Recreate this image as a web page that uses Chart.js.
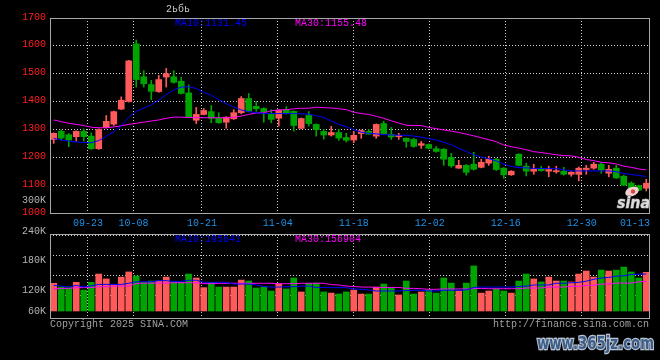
<!DOCTYPE html>
<html><head><meta charset="utf-8">
<script src="https://cdn.jsdelivr.net/npm/chart.js@4.4.1/dist/chart.umd.min.js"></script>
<style>
html,body{margin:0;padding:0;background:#000;width:660px;height:360px;overflow:hidden}
canvas{position:absolute;left:0}
#pc{top:0}
#vc{top:226px}
</style></head><body>
<canvas id="pc" width="660" height="232"></canvas>
<canvas id="vc" width="660" height="134"></canvas>
<script>
// ---------- data ----------
const dates = ['09-12','09-13','09-18','09-19','09-20','09-23','09-24','09-25','09-26','09-27','09-30',
 '10-08','10-09','10-10','10-11','10-14','10-15','10-16','10-17','10-18','10-21','10-22','10-23','10-24','10-25','10-28','10-29','10-30','10-31',
 '11-01','11-04','11-05','11-06','11-07','11-08','11-11','11-12','11-13','11-14','11-15','11-18','11-19','11-20','11-21','11-22','11-25','11-26','11-27','11-28','11-29',
 '12-02','12-03','12-04','12-05','12-06','12-09','12-10','12-11','12-12','12-13','12-16','12-17','12-18','12-19','12-20','12-23','12-24','12-25','12-26','12-27','12-30','12-31',
 '01-02','01-03','01-06','01-07','01-08','01-09','01-10','01-13'];

const openP = [1264,1293,1281,1274,1293,1276,1231,1307,1319,1373,
 1400,1607,1489,1461,1436,1488,1489,1473,1431,1333,
 1354,1364,1340,1326,1338,1360,1411,1383,1375,1354,
 1340,1371,1365,1304,1350,1318,1293,1280,1289,1271,
 1262,1285,1293,1276,1321,1282,1274,1268,1264,1243,
 1246,1231,1229,1200,1161,1171,1175,1164,1179,1193,
 1161,1137,1211,1168,1150,1159,1150,1148,1150,1139,
 1139,1156,1161,1175,1143,1161,1132,1107,1098,1089];
const highP = [1288,1298,1285,1295,1302,1288,1302,1350,1366,1417,
 1548,1621,1511,1476,1494,1519,1511,1487,1460,1379,
 1375,1386,1360,1346,1371,1418,1429,1400,1378,1371,
 1371,1382,1367,1341,1364,1320,1300,1311,1300,1286,
 1293,1298,1300,1320,1329,1307,1286,1270,1268,1257,
 1248,1239,1231,1214,1189,1174,1218,1193,1204,1196,
 1163,1152,1213,1179,1175,1168,1168,1168,1164,1150,
 1165,1171,1182,1181,1171,1171,1136,1112,1100,1121];
const lowP = [1250,1262,1238,1258,1258,1228,1228,1305,1314,1371,
 1398,1452,1452,1407,1433,1452,1466,1427,1342,1321,
 1352,1324,1322,1304,1336,1356,1363,1365,1326,1324,
 1312,1355,1294,1302,1312,1276,1265,1276,1261,1255,
 1252,1268,1282,1268,1283,1264,1264,1236,1236,1232,
 1230,1218,1171,1164,1160,1136,1154,1162,1171,1152,
 1124,1135,1169,1133,1139,1150,1130,1143,1136,1132,
 1115,1139,1157,1143,1130,1124,1098,1084,1080,1079];
const closeP = [1286,1269,1262,1293,1274,1231,1300,1329,1364,1405,
 1546,1479,1464,1437,1479,1500,1469,1429,1344,1354,
 1368,1340,1324,1344,1360,1411,1365,1374,1363,1336,
 1369,1357,1314,1339,1321,1299,1280,1289,1269,1261,
 1279,1296,1283,1318,1285,1273,1279,1257,1239,1249,
 1232,1221,1193,1169,1171,1146,1157,1182,1193,1156,
 1137,1150,1171,1150,1157,1152,1156,1152,1139,1146,
 1161,1161,1175,1154,1157,1126,1100,1086,1082,1107];
const priceMA10 = [1268,1262,1258,1255,1253,1252,1260,1275,1292,1313,
 1343,1365,1377,1388,1405,1425,1442,1452,1453,1447,
 1433,1423,1407,1393,1380,1370,1364,1360,1358,1357,
 1357,1357,1357,1356,1355,1349,1343,1330,1318,1310,
 1299,1290,1286,1284,1281,1280,1279,1279,1276,1272,
 1267,1262,1254,1245,1232,1221,1209,1201,1195,1187,
 1175,1167,1163,1162,1160,1160,1160,1160,1155,1151,
 1151,1151,1151,1151,1151,1148,1142,1138,1135,1131];
const priceMA30 = [1334,1328,1322,1318,1314,1308,1306,1306,1309,1313,
 1318,1322,1326,1330,1334,1340,1344,1344,1343,1342,
 1342,1342,1342,1342,1343,1348,1354,1359,1360,1367,
 1370,1371,1374,1376,1376,1380,1378,1377,1374,1371,
 1362,1357,1354,1347,1340,1331,1323,1315,1314,1314,
 1307,1303,1298,1294,1289,1283,1277,1270,1263,1256,
 1244,1238,1233,1227,1220,1217,1213,1209,1206,1205,
 1200,1192,1188,1182,1180,1176,1168,1164,1158,1155];
// volume in thousands
const volumeK = [147,127,124,152,111,152,196,170,141,180,
 207,186,152,159,159,180,154,152,196,175,
 124,152,127,127,127,164,159,122,127,106,
 143,117,175,101,147,148,101,95,90,101,
 111,90,90,127,143,122,85,159,90,101,
 111,95,175,148,106,148,239,95,106,117,
 106,95,159,196,170,154,180,159,159,154,
 196,212,180,217,212,217,233,207,175,205];
const volMA10K = [136,132,127,136,127,134,141,141,141,141,
 147,155,155,155,161,161,157,157,163,163,
 152,152,152,152,143,143,143,138,130,127,
 127,129,129,132,132,125,125,124,124,124,
 117,115,112,106,106,106,106,108,110,110,
 106,106,110,110,110,112,125,127,127,127,
 127,127,130,132,138,138,138,147,147,150,
 152,158,168,175,178,185,187,194,195,196];
const volMA30K = [117,120,120,124,124,124,129,129,132,132,
 132,145,148,148,148,148,150,150,150,150,
 145,145,147,147,147,147,147,147,147,147,
 145,145,145,147,147,147,147,140,138,132,
 130,127,127,125,125,125,125,120,120,118,
 115,115,117,117,117,117,118,120,118,118,
 118,118,118,122,122,122,127,127,127,131,
 131,136,136,143,143,148,148,148,155,157];

const priceTicks = [1000,1100,1200,1300,1400,1500,1600,1700];
const dateTicks = ['09-23','10-08','10-21','11-04','11-18','12-02','12-16','12-30','01-13'];
const volTickLabels = ['240K','180K','120K','60K'];
const extraLeftLabel = '300K';
const titleText = '2ьбь';
const priceLegend = ['MA10:1131.45','MA30:1155.48'];
const volLegend = ['MA10:195641','MA30:156904'];
const copyrightText = 'Copyright 2025 SINA.COM';
const urlText = 'http://finance.sina.com.cn';
const watermarkText = 'www.365jz.com';

// ---------- styling ----------
const UP = '#ff5a5a', DOWN = '#00a400';
const BLUE = '#0000ff', MAG = '#ff00ff';
const GRID = '#cfcfcf', FRAME = '#a8a8a8';
const MONO = '"Liberation Mono", "DejaVu Sans Mono", monospace';
const candleColors = dates.map((d, i) => closeP[i] >= openP[i] ? UP : DOWN);
const xTickIdx = [0].concat(dateTicks.map(d => dates.indexOf(d)));
const lastIdx = dates.length - 1;

function drawFrame(ctx, a) {
  ctx.strokeStyle = FRAME; ctx.lineWidth = 1;
  ctx.strokeRect(a.left + 0.5, a.top + 0.5, a.right - a.left - 1, a.bottom - a.top);
}
function txt(ctx, s, x, y, color, align) {
  ctx.fillStyle = color; ctx.textAlign = align || 'left'; ctx.fillText(s, x, y);
}

const priceDeco = {
  id: 'priceDeco',
  afterDraw(chart) {
    const ctx = chart.ctx, a = chart.chartArea;
    ctx.save();
    drawFrame(ctx, a);
    ctx.font = '10px ' + MONO; ctx.textBaseline = 'middle';
    txt(ctx, titleText, 166, 9, '#c8c8c8');
    txt(ctx, priceLegend[0], 175, 23, BLUE);
    txt(ctx, priceLegend[1], 295, 23, MAG);
    txt(ctx, extraLeftLabel, 46, 200.5, '#b4b4b4', 'right');
    // sina logo
    ctx.fillStyle = '#f2d0d0';
    ctx.beginPath(); ctx.ellipse(632, 191.5, 7, 4.5, -0.35, 0, Math.PI * 2); ctx.fill();
    ctx.fillStyle = '#d84848';
    ctx.beginPath(); ctx.arc(633, 191.5, 2.2, 0, Math.PI * 2); ctx.fill();
    ctx.font = 'italic bold 15px "DejaVu Sans"';
    ctx.textBaseline = 'alphabetic';
    ctx.textAlign = 'left';
    ctx.lineWidth = 1; ctx.strokeStyle = '#7a7a7a';
    ctx.strokeText('sina', 617, 208, 33);
    ctx.fillStyle = '#dcdcdc';
    ctx.fillText('sina', 617, 208, 33);
    ctx.restore();
  }
};

const volDeco = {
  id: 'volDeco',
  afterDraw(chart) {
    const ctx = chart.ctx, a = chart.chartArea;
    ctx.save();
    drawFrame(ctx, a);
    ctx.font = '10px ' + MONO; ctx.textBaseline = 'middle';
    const ys = [5, 34, 64.5, 85];
    volTickLabels.forEach((s, i) => txt(ctx, s, 46, ys[i], '#b4b4b4', 'right'));
    txt(ctx, volLegend[0], 175, 13, BLUE);
    txt(ctx, volLegend[1], 295, 13, MAG);
    txt(ctx, copyrightText, 50, 98, '#a0a0a0');
    txt(ctx, urlText, 649, 98, '#a0a0a0', 'right');
    ctx.font = 'bold 17px "DejaVu Sans"';
    ctx.textAlign = 'left';
    ctx.lineWidth = 2.5; ctx.strokeStyle = '#b8c4d4';
    ctx.strokeText(watermarkText, 537, 119, 117);
    ctx.fillStyle = '#3e5e88';
    ctx.fillText(watermarkText, 537, 119, 117);
    ctx.restore();
  }
};

const monoFont = { family: MONO, size: 10 };
const gridColorFn = c => (c.tick && (c.tick.value === 0 || c.tick.value === lastIdx)) ? 'rgba(0,0,0,0)' : GRID;

new Chart(document.getElementById('pc'), {
  type: 'bar',
  data: {
    labels: dates,
    datasets: [
      { type: 'line', data: priceMA10, borderColor: BLUE, borderWidth: 1, pointRadius: 0, order: 0 },
      { type: 'line', data: priceMA30, borderColor: MAG, borderWidth: 1, pointRadius: 0, order: 0 },
      { data: dates.map((d, i) => [openP[i], closeP[i]]), backgroundColor: candleColors,
        barThickness: 6, minBarLength: 1, grouped: false, order: 1 },
      { data: dates.map((d, i) => [lowP[i], highP[i]]), backgroundColor: candleColors,
        barThickness: 1, grouped: false, order: 2 }
    ]
  },
  options: {
    responsive: false, animation: false, devicePixelRatio: 1,
    layout: { padding: { top: 18, right: 10, left: 0, bottom: 0 } },
    plugins: { legend: { display: false }, tooltip: { enabled: false } },
    scales: {
      x: { type: 'category', display: false, offset: true },
      xg: {
        type: 'linear', position: 'bottom', min: 0, max: lastIdx, offset: false,
        afterBuildTicks: s => { s.ticks = xTickIdx.map(v => ({ value: v })); },
        afterFit: s => { s.height = 19; },
        grid: { drawTicks: false, lineWidth: 1, offset: false, color: gridColorFn },
        border: { display: false, dash: [1, 2] },
        ticks: { color: '#1e90e8', font: monoFont, padding: 4, align: 'inner', maxRotation: 0,
          autoSkip: false, callback: v => v === 0 ? '' : dates[v] }
      },
      y: {
        type: 'linear', position: 'left', min: priceTicks[0], max: priceTicks[priceTicks.length - 1],
        afterBuildTicks: s => { s.ticks = priceTicks.map(v => ({ value: v })); },
        afterFit: s => { s.width = 50; },
        grid: { drawTicks: false, color: GRID, lineWidth: 1 },
        border: { display: false, dash: [1, 2] },
        ticks: { color: '#ff2020', font: monoFont, padding: 4, labelOffset: -1, callback: v => String(v) }
      }
    }
  },
  plugins: [priceDeco]
});

new Chart(document.getElementById('vc'), {
  type: 'bar',
  data: {
    labels: dates,
    datasets: [
      { type: 'line', data: volMA10K, borderColor: BLUE, borderWidth: 1, pointRadius: 0, order: 0 },
      { type: 'line', data: volMA30K, borderColor: MAG, borderWidth: 1, pointRadius: 0, order: 0 },
      { data: volumeK, backgroundColor: candleColors, barThickness: 6, order: 1 }
    ]
  },
  options: {
    responsive: false, animation: false, devicePixelRatio: 1,
    layout: { padding: { top: 8, right: 10, left: 0, bottom: 42 } },
    plugins: { legend: { display: false }, tooltip: { enabled: false } },
    scales: {
      x: { type: 'category', display: false, offset: true },
      xg: {
        type: 'linear', position: 'bottom', min: 0, max: lastIdx, offset: false,
        afterBuildTicks: s => { s.ticks = xTickIdx.map(v => ({ value: v })); },
        afterFit: s => { s.height = 0; },
        grid: { drawTicks: false, lineWidth: 1, offset: false, color: gridColorFn },
        border: { display: false, dash: [1, 2] },
        ticks: { display: false }
      },
      y: {
        type: 'linear', position: 'left', min: -37.1, max: 408.3,
        afterBuildTicks: s => { s.ticks = [81, 187, 293, 399].map(v => ({ value: v })); },
        afterFit: s => { s.width = 50; },
        grid: { drawTicks: false, color: GRID, lineWidth: 1 },
        border: { display: false, dash: [1, 2] },
        ticks: { display: false }
      }
    }
  },
  plugins: [volDeco]
});
</script>
</body></html>
